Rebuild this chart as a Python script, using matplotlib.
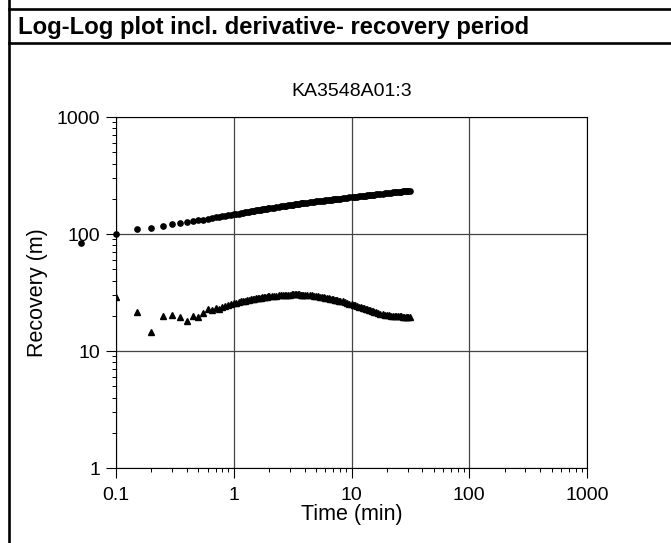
"""Log-log plot of recovery and its derivative, KA3548A01:3."""

import matplotlib
matplotlib.use('Agg')
import matplotlib.pyplot as plt
from matplotlib.lines import Line2D
from matplotlib.ticker import LogLocator, NullFormatter

plt.rcParams['font.family'] = ['Liberation Sans', 'DejaVu Sans']

# Time (min)
time = [0.05, 0.1, 0.15, 0.2, 0.25, 0.3, 0.35, 0.4, 0.45, 0.5, 0.55, 0.6, 0.65,
        0.7, 0.75, 0.8, 0.85, 0.9, 0.95, 1.0,
        1.05, 1.1, 1.15, 1.2, 1.25, 1.3, 1.35, 1.4, 1.45, 1.5,
        1.55, 1.6, 1.65, 1.7, 1.75, 1.8, 1.85, 1.9, 1.95, 2.0,
        2.1, 2.2, 2.3, 2.4, 2.5, 2.6, 2.7, 2.8, 2.9, 3.0,
        3.1, 3.2, 3.3, 3.4, 3.5, 3.6, 3.7, 3.8, 3.9, 4.0,
        4.2, 4.4, 4.6, 4.8, 5.0, 5.2, 5.4, 5.6, 5.8, 6.0,
        6.2, 6.4, 6.6, 6.8, 7.0, 7.2, 7.4, 7.6, 7.8, 8.0,
        8.4, 8.8, 9.2, 9.6, 10.0, 10.4, 10.8, 11.2, 11.6, 12.0,
        12.4, 12.8, 13.2, 13.6, 14.0, 14.4, 14.8, 15.2, 15.6, 16.0,
        16.8, 17.6, 18.4, 19.2, 20.0, 20.8, 21.6, 22.4, 23.2, 24.0,
        24.8, 25.6, 26.4, 27.2, 28.0, 28.8, 29.6, 30.4, 31.2]

# Recovery (m)
recovery = [83, 100, 110, 113, 117, 121, 124, 126, 128.5, 131, 133, 135, 137,
            138.5, 140, 141.5, 143, 144.5, 146, 147,
            148.3, 149.6, 150.8, 152.0, 153.1, 154.2, 155.2, 156.2, 157.2, 158.1,
            159.0, 159.9, 160.7, 161.5, 162.3, 163.1, 163.9, 164.6, 165.3, 166.0,
            167.3, 168.5, 169.7, 170.9, 172.0, 173.0, 174.0, 175.0, 175.9, 176.8,
            177.7, 178.5, 179.4, 180.2, 180.9, 181.7, 182.4, 183.1, 183.8, 184.5,
            185.7, 186.8, 187.8, 188.8, 189.8, 190.7, 191.6, 192.5, 193.3, 194.2,
            194.9, 195.7, 196.4, 197.1, 197.8, 198.5, 199.1, 199.8, 200.4, 201.0,
            202.2, 203.3, 204.4, 205.5, 206.5, 207.4, 208.4, 209.2, 210.1, 210.9,
            211.7, 212.5, 213.3, 214.0, 214.7, 215.4, 216.1, 216.7, 217.4, 218.0,
            219.2, 220.4, 221.5, 222.6, 223.6, 224.6, 225.5, 226.4, 227.3, 228.1,
            229.0, 229.8, 230.5, 231.3, 232.0, 232.7, 233.4, 234.0, 234.7]

# Derivative, no value at the first time
timeDer = time[1:]
derivative = [29, 21.7, 14.6, 20, 20.3, 19.5, 18, 20, 19.5, 21, 22.8, 22.3,
              23.2, 22.8, 24.0, 24.4, 24.8, 25.3, 25.6,
              25.9, 26.2, 26.5, 26.8, 27.0, 27.2, 27.4, 27.6, 27.8, 28.0,
              28.2, 28.3, 28.5, 28.6, 28.8, 28.9, 29.0, 29.2, 29.3, 29.4,
              29.5, 29.7, 29.8, 30.0, 30.1, 30.2, 30.2, 30.3, 30.4, 30.4,
              30.5, 30.5, 30.5, 30.5, 30.5, 30.5, 30.4, 30.4, 30.3, 30.3,
              30.2, 30.0, 29.9, 29.8, 29.6, 29.4, 29.2, 29.0, 28.8, 28.6,
              28.4, 28.2, 28.0, 27.8, 27.6, 27.5, 27.3, 27.1, 27.0, 26.8,
              26.5, 26.1, 25.8, 25.4, 25.1, 24.8, 24.5, 24.2, 23.9, 23.6,
              23.4, 23.1, 22.9, 22.7, 22.4, 22.2, 22.0, 21.8, 21.6, 21.4,
              21.1, 20.9, 20.7, 20.5, 20.3, 20.2, 20.1, 20.0, 20.0, 19.9,
              19.9, 19.8, 19.8, 19.7, 19.7, 19.6, 19.6, 19.6, 19.6]

xTicks = [0.1, 1, 10, 100, 1000]
xTickLabels = ['0.1', '1', '10', '100', '1000']
yTicks = [1, 10, 100, 1000]
yTickLabels = ['1', '10', '100', '1000']

fig = plt.figure(figsize=(6.71, 5.43), dpi=100)

# Report style frame with header box
for x0, y0, x1, y1 in [(0.0127, 0.0, 0.0127, 1.0),
                       (0.0127, 0.9834, 1.0, 0.9834),
                       (0.0127, 0.9217, 1.0, 0.9217)]:
    fig.add_artist(Line2D([x0, x1], [y0, y1], transform=fig.transFigure,
                          color='black', linewidth=1.9))
fig.text(0.027, 0.9374, 'Log-Log plot incl. derivative- recovery period',
         fontsize=17.2, fontweight='bold', ha='left', va='baseline')

ax = fig.add_axes([0.1729, 0.1381, 0.7019, 0.6464])
ax.set_xscale('log')
ax.set_yscale('log')
ax.set_xlim(0.1, 1000)
ax.set_ylim(1, 1000)

ax.plot(time, recovery, linestyle='none', marker='o', markersize=3.8,
        color='black', clip_on=False, zorder=3)
ax.plot(timeDer, derivative, linestyle='none', marker='^', markersize=4.0,
        color='black', zorder=3)

ax.set_xticks(xTicks, labels=xTickLabels)
ax.set_yticks(yTicks, labels=yTickLabels)
ax.xaxis.set_minor_locator(LogLocator(base=10, subs=range(2, 10), numticks=20))
ax.yaxis.set_minor_locator(LogLocator(base=10, subs=range(2, 10), numticks=20))
ax.xaxis.set_minor_formatter(NullFormatter())
ax.yaxis.set_minor_formatter(NullFormatter())
ax.tick_params(which='major', direction='out', length=7.5, width=0.8,
               labelsize=14)
ax.tick_params(axis='x', which='major', pad=6)
ax.tick_params(axis='y', which='major', pad=4)
ax.tick_params(which='minor', direction='out', length=3, width=0.7)

ax.grid(True, which='major', color='#444444', linewidth=0.9)
ax.set_axisbelow(True)
for sp in ax.spines.values():
    sp.set_linewidth(0.8)

fig.text(0.524, 0.8306, 'KA3548A01:3', fontsize=14, ha='center', va='center')
fig.text(0.0566, 0.4613, 'Recovery (m)', fontsize=15.5, rotation=90,
         ha='center', va='center')
fig.text(0.524, 0.0424, 'Time (min)', fontsize=15.5, ha='center', va='baseline')

fig.savefig('out.png', dpi=100)
